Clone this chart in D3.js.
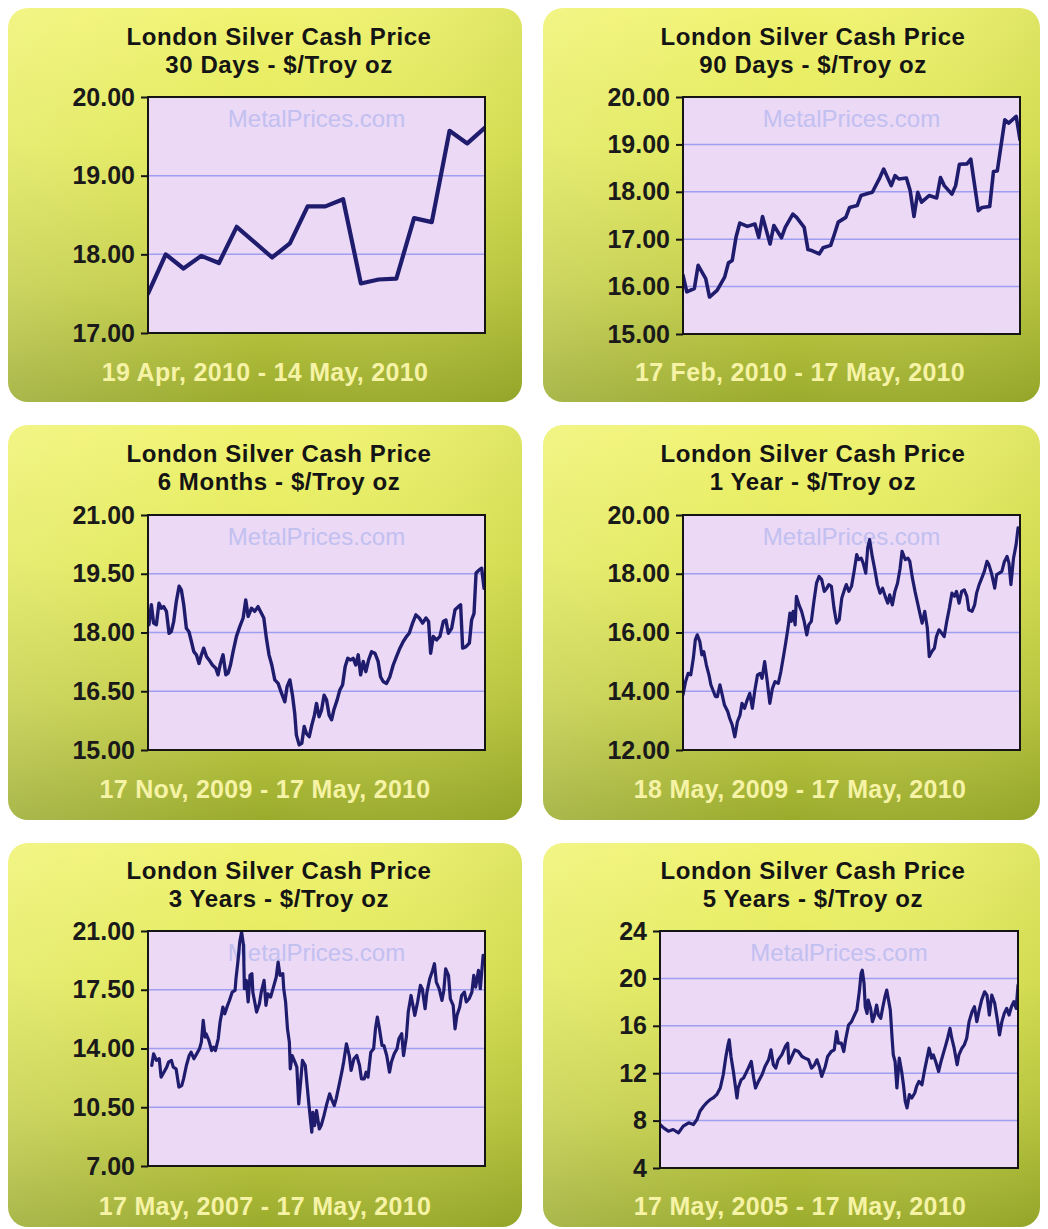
<!DOCTYPE html>
<html><head><meta charset="utf-8">
<script src="https://cdn.jsdelivr.net/npm/d3@7"></script>
<style>body{margin:0;background:#fff}svg{display:block}</style>
</head><body><svg id="c" width="1048" height="1229"></svg>
<script>
// ---------- DATA ----------
const chartTitle = "London Silver Cash Price";
const subtitles = ["30 Days - $/Troy oz","90 Days - $/Troy oz","6 Months - $/Troy oz","1 Year - $/Troy oz","3 Years - $/Troy oz","5 Years - $/Troy oz"];
const dateRanges = ["19 Apr, 2010 - 14 May, 2010","17 Feb, 2010 - 17 May, 2010","17 Nov, 2009 - 17 May, 2010","18 May, 2009 - 17 May, 2010","17 May, 2007 - 17 May, 2010","17 May, 2005 - 17 May, 2010"];
const watermark = "MetalPrices.com";

const yTicks30 = [17,18,19,20];
const yTicks90 = [15,16,17,18,19,20];
const yTicks6m = [15,16.5,18,19.5,21];
const yTicks1y = [12,14,16,18,20];
const yTicks3y = [7,10.5,14,17.5,21];
const yTicks5y = [4,8,12,16,20,24];

// [trading day index, $/oz]
const silver30 = [[0,17.50],[1,18.00],[2,17.82],[3,17.98],[4,17.89],[5,18.35],[7,17.96],[8,18.14],[9,18.61],[10,18.61],[11,18.70],[12,17.63],[13,17.68],[14,17.69],[15,18.46],[16,18.41],[17,19.57],[18,19.41],[19,19.61]];
// [day, $/oz]
const silver90 = [[0,16.24],[1,15.89],[3,15.96],[4,16.45],[6,16.17],[7,15.78],[9,15.92],[11,16.20],[12,16.50],[13,16.55],[14,17.04],[15,17.34],[17,17.27],[19,17.32],[20,17.04],[21,17.48],[23,16.90],[24,17.29],[26,17.03],[27,17.25],[29,17.53],[30,17.46],[32,17.25],[33,16.78],[34,16.76],[36,16.69],[37,16.82],[39,16.87],[40,17.11],[41,17.36],[43,17.46],[44,17.67],[46,17.71],[47,17.92],[49,17.97],[50,17.99],[52,18.30],[53,18.48],[55,18.13],[56,18.34],[57,18.27],[59,18.29],[60,18.02],[61,17.48],[62,17.99],[63,17.78],[65,17.92],[67,17.87],[68,18.30],[69,18.13],[71,17.95],[72,18.13],[73,18.58],[75,18.59],[76,18.69],[78,17.60],[79,17.67],[81,17.69],[82,18.43],[83,18.44],[85,19.52],[86,19.45],[88,19.59],[89,19.10]];
// [day, $/oz]
const silver6m = [[0.5,18.20],[1.8,18.71],[3.0,18.24],[4.5,18.20],[5.9,18.75],[7.2,18.62],[8.4,18.66],[9.9,18.54],[11.3,17.98],[12.5,18.02],[13.8,18.28],[15.2,18.79],[16.7,19.18],[17.9,19.09],[19.2,18.71],[20.6,18.11],[22.0,18.02],[23.3,17.77],[24.6,17.51],[26.0,17.43],[27.4,17.21],[28.7,17.43],[29.9,17.60],[31.4,17.39],[32.8,17.30],[34.6,17.17],[36.4,17.09],[37.6,16.92],[38.9,17.21],[40.3,17.43],[41.8,16.92],[43.0,16.96],[44.3,17.17],[45.7,17.51],[47.5,17.90],[49.3,18.15],[51.1,18.37],[52.5,18.83],[53.8,18.41],[55.6,18.62],[57.3,18.54],[59.1,18.66],[60.9,18.49],[62.2,18.37],[63.6,17.85],[65.0,17.43],[66.5,17.17],[68.1,16.79],[69.9,16.70],[71.7,16.45],[73.5,16.23],[74.7,16.62],[76.2,16.79],[77.6,16.40],[78.8,15.94],[79.7,15.38],[81.2,15.13],[82.6,15.17],[83.9,15.60],[85.1,15.42],[86.6,15.34],[88.0,15.64],[89.4,15.89],[90.5,16.19],[91.9,15.85],[93.2,16.02],[94.6,16.40],[95.9,16.28],[97.3,15.89],[98.6,15.77],[99.8,16.02],[101.6,16.28],[103.0,16.53],[104.5,16.66],[105.9,17.13],[107.3,17.34],[108.8,17.30],[110.2,17.34],[111.6,17.17],[112.9,17.43],[114.2,16.92],[115.6,17.26],[117.0,17.00],[118.5,17.30],[120.1,17.51],[121.9,17.47],[123.6,17.26],[124.9,16.87],[126.3,16.75],[128.1,16.70],[129.9,16.87],[131.7,17.17],[133.5,17.39],[135.3,17.60],[137.1,17.77],[138.9,17.90],[140.3,17.98],[142.1,18.24],[143.9,18.45],[145.7,18.37],[147.5,18.24],[149.3,18.37],[150.7,18.28],[151.8,17.47],[153.2,17.90],[155.0,17.81],[156.8,17.90],[158.6,18.28],[160.0,18.32],[161.3,17.98],[163.1,18.11],[164.9,18.58],[166.7,18.66],[167.9,18.71],[169.0,17.60],[170.8,17.64],[172.6,17.73],[173.8,18.32],[175.1,18.49],[176.2,19.52],[177.9,19.60],[179.2,19.64],[180.5,19.13]];
// [week, $/oz]
const silver1y = [[0,13.88],[0.4,14.33],[0.8,14.61],[1.2,14.56],[1.6,15.13],[1.9,15.75],[2.2,15.92],[2.6,15.69],[2.9,15.24],[3.2,15.35],[3.6,14.90],[4.0,14.56],[4.3,14.22],[4.6,14.05],[5.0,13.82],[5.3,13.82],[5.7,14.22],[6.0,13.93],[6.4,13.53],[6.9,13.31],[7.2,13.08],[7.6,12.85],[8.0,12.45],[8.4,12.97],[8.8,13.19],[9.1,13.59],[9.5,13.42],[9.9,13.70],[10.3,13.93],[10.7,13.42],[11.1,14.05],[11.5,14.56],[11.9,14.61],[12.2,14.44],[12.6,15.01],[13.0,14.33],[13.4,13.59],[13.8,14.10],[14.2,14.33],[14.7,14.27],[15.1,14.67],[15.5,15.18],[15.8,15.58],[16.2,16.15],[16.5,16.66],[16.7,16.38],[17.0,16.72],[17.3,16.26],[17.5,17.23],[17.9,16.94],[18.3,16.72],[18.7,16.38],[19.1,15.92],[19.4,16.26],[19.8,16.38],[20.2,17.06],[20.6,17.68],[21.0,17.91],[21.4,17.80],[21.8,17.40],[22.2,17.51],[22.5,17.63],[22.9,17.57],[23.3,16.83],[23.7,16.32],[24.1,16.43],[24.5,17.17],[24.9,17.45],[25.2,17.63],[25.6,17.40],[26.0,17.57],[26.4,18.08],[26.8,18.65],[27.1,18.48],[27.5,18.53],[27.8,18.36],[28.2,18.02],[28.5,18.88],[28.8,19.16],[29.2,18.59],[29.6,18.14],[30.0,17.63],[30.4,17.34],[30.8,17.51],[31.2,17.23],[31.6,17.00],[31.9,17.28],[32.3,16.94],[32.7,17.40],[33.1,17.68],[33.5,18.19],[33.8,18.76],[34.3,18.48],[34.7,18.53],[35.0,18.42],[35.4,17.85],[35.8,17.40],[36.2,17.00],[36.6,16.60],[36.9,16.32],[37.3,16.72],[37.7,16.15],[38.0,15.18],[38.4,15.35],[38.8,15.47],[39.1,15.86],[39.5,16.09],[39.9,15.98],[40.3,15.86],[40.7,16.38],[41.1,16.83],[41.5,17.34],[41.9,17.23],[42.2,17.40],[42.6,17.00],[43.0,17.40],[43.4,17.45],[43.8,17.23],[44.1,16.77],[44.6,16.72],[45.0,16.94],[45.3,17.34],[45.7,17.63],[46.1,17.85],[46.5,18.08],[46.9,18.42],[47.2,18.31],[47.6,18.02],[48.1,17.51],[48.4,17.97],[48.8,18.02],[49.2,18.08],[49.6,18.42],[50.0,18.59],[50.3,18.36],[50.6,17.63],[51.0,18.53],[51.4,18.99],[51.7,19.56],[52,19.50]];
// [month, $/oz]
const silver3y = [[0.4,12.99],[0.6,13.68],[0.9,13.29],[1.2,13.39],[1.4,12.29],[1.7,12.59],[2.0,12.89],[2.2,13.19],[2.5,13.29],[2.7,12.89],[3.0,12.79],[3.3,11.70],[3.6,11.79],[3.8,12.19],[4.1,12.99],[4.4,13.58],[4.6,13.78],[4.9,13.39],[5.2,13.68],[5.5,13.98],[5.7,14.38],[5.9,15.67],[6.1,14.68],[6.2,14.88],[6.5,14.48],[6.8,13.88],[7.0,14.08],[7.2,13.88],[7.5,14.58],[7.7,15.57],[8.0,16.47],[8.2,16.07],[8.5,16.57],[8.7,16.86],[9.0,17.36],[9.3,17.46],[9.4,18.16],[9.6,19.15],[9.8,20.34],[10.0,20.94],[10.2,20.15],[10.3,17.56],[10.5,18.06],[10.7,16.77],[10.9,18.36],[11.1,18.46],[11.2,17.36],[11.4,16.77],[11.6,16.17],[11.9,16.67],[12.1,17.36],[12.4,18.06],[12.6,16.57],[12.8,17.26],[13.1,17.06],[13.4,17.66],[13.7,18.26],[13.9,19.15],[14.1,18.36],[14.4,18.46],[14.5,17.56],[14.7,16.77],[14.9,15.17],[15.1,14.38],[15.2,12.79],[15.4,13.58],[15.7,13.19],[15.9,12.89],[16.1,10.70],[16.3,11.99],[16.5,13.29],[16.8,12.99],[17.0,11.79],[17.2,10.60],[17.5,9.01],[17.6,10.20],[17.8,9.41],[18.0,10.30],[18.3,9.21],[18.5,9.41],[18.8,10.01],[19.1,10.70],[19.4,11.30],[19.6,11.00],[19.9,10.60],[20.1,11.00],[20.4,11.79],[20.7,12.59],[20.9,13.19],[21.2,14.28],[21.5,13.58],[21.7,12.69],[22.0,13.39],[22.3,13.58],[22.6,12.99],[22.8,12.19],[23.1,12.19],[23.3,12.59],[23.5,12.29],[23.8,13.78],[24.1,13.98],[24.3,15.17],[24.5,15.87],[24.7,15.27],[25.0,14.18],[25.2,14.18],[25.5,13.58],[25.8,12.59],[26.0,13.19],[26.3,13.68],[26.6,13.98],[26.8,14.58],[27.1,14.88],[27.3,13.58],[27.6,14.68],[27.8,16.17],[28.1,17.16],[28.3,16.57],[28.5,15.97],[28.8,16.77],[29.1,17.76],[29.3,17.56],[29.6,16.37],[29.8,17.36],[30.1,18.16],[30.4,18.65],[30.6,19.05],[30.8,17.96],[31.1,17.56],[31.4,16.86],[31.6,17.46],[31.8,18.75],[32.1,18.36],[32.3,16.96],[32.6,16.57],[32.8,15.17],[33.0,15.97],[33.3,16.47],[33.5,17.16],[33.8,17.36],[34.0,16.77],[34.3,16.96],[34.6,17.36],[34.8,18.36],[35.0,17.66],[35.3,18.65],[35.5,17.56],[35.8,19.55],[36,19.35]];
// [month, $/oz]
const silver5y = [[0,7.67],[0.6,7.39],[1.4,7.11],[2.2,7.25],[3.1,6.97],[3.9,7.53],[4.8,7.81],[5.6,7.67],[6.2,8.09],[6.7,8.79],[7.3,9.21],[7.8,9.49],[8.4,9.77],[8.9,9.91],[9.5,10.19],[10.1,10.75],[10.6,11.87],[11.0,13.27],[11.4,14.39],[11.6,14.81],[11.9,13.41],[12.3,12.15],[12.6,11.03],[12.9,9.91],[13.1,10.75],[13.6,11.45],[14.0,11.59],[14.4,12.01],[14.8,12.43],[15.3,12.99],[15.7,11.59],[16.0,10.75],[16.5,11.31],[17.1,11.87],[17.6,12.57],[18.2,13.13],[18.6,13.97],[19.0,12.71],[19.4,12.43],[19.8,13.13],[20.4,13.55],[21.0,14.25],[21.4,14.53],[21.6,12.85],[22.1,13.41],[22.6,13.97],[23.2,13.83],[23.8,13.41],[24.3,13.27],[24.9,13.13],[25.4,12.43],[25.9,12.71],[26.3,13.13],[26.7,12.57],[27.1,11.73],[27.7,12.57],[28.1,13.41],[28.7,13.83],[29.2,13.97],[29.6,15.51],[29.9,14.53],[30.4,14.53],[30.8,13.83],[31.1,14.81],[31.6,16.07],[32.1,16.35],[32.6,16.91],[33.0,17.33],[33.4,18.87],[33.7,20.41],[33.9,20.69],[34.2,19.57],[34.4,17.61],[34.7,17.05],[34.9,18.17],[35.3,17.47],[35.6,16.35],[35.9,16.77],[36.3,17.75],[36.6,16.91],[37.0,16.63],[37.3,17.47],[37.7,18.45],[38.0,19.01],[38.3,18.17],[38.6,17.33],[38.9,14.95],[39.1,13.55],[39.4,12.99],[39.7,10.75],[40.1,13.27],[40.5,12.15],[40.8,11.03],[41.1,9.63],[41.4,9.07],[41.8,10.19],[42.2,9.91],[42.7,10.33],[43.0,10.89],[43.4,11.31],[43.9,11.03],[44.3,12.15],[44.7,13.13],[45.1,14.11],[45.5,13.27],[45.8,13.55],[46.2,12.99],[46.7,12.15],[47.1,12.99],[47.5,13.69],[47.9,14.39],[48.2,14.95],[48.6,15.79],[48.9,14.95],[49.3,14.11],[49.8,12.71],[50.1,13.55],[50.6,14.11],[51.0,14.39],[51.4,14.95],[51.8,16.35],[52.3,17.19],[52.7,17.61],[53.1,16.35],[53.5,17.33],[53.9,18.17],[54.4,18.87],[54.8,18.59],[55.2,16.91],[55.6,18.59],[56.1,17.89],[56.5,16.63],[56.9,15.23],[57.3,16.35],[57.7,17.05],[58.1,17.47],[58.5,16.91],[58.9,17.61],[59.3,18.03],[59.7,17.47],[60,19.43]];

// ---------- LAYOUT ----------
const FONT = "'Liberation Sans', Arial, sans-serif";
const panels = [
  {data: silver30, xd:[0,19],  yd:[17,20], ticks:yTicks30, fmt:".2f", card:[8,8,514,394],   plot:[148,97,337,236],  tx:279, dx:265, off:0,   lw:4.2},
  {data: silver90, xd:[0,89],  yd:[15,20], ticks:yTicks90, fmt:".2f", card:[543,8,497,394], plot:[683,97,337,237],  tx:813, dx:800, off:0,   lw:3.6},
  {data: silver6m, xd:[0,181], yd:[15,21], ticks:yTicks6m, fmt:".2f", card:[8,425,514,395], plot:[148,515,337,235], tx:279, dx:265, off:417, lw:3.4},
  {data: silver1y, xd:[0,52],  yd:[12,20], ticks:yTicks1y, fmt:".2f", card:[543,425,497,395],plot:[683,515,337,235], tx:813, dx:800, off:417, lw:3.2},
  {data: silver3y, xd:[0,36],  yd:[7,21],  ticks:yTicks3y, fmt:".2f", card:[8,843,514,384], plot:[148,931,337,235], tx:279, dx:265, off:834, lw:3.2},
  {data: silver5y, xd:[0,60],  yd:[4,24],  ticks:yTicks5y, fmt:"d",   card:[543,843,497,384],plot:[660,931,358,237], tx:813, dx:800, off:834, lw:3.2}
];

const svg = d3.select("#c");
const defs = svg.append("defs");
const grad = defs.append("linearGradient").attr("id","cardGrad").attr("x1",0).attr("y1",0).attr("x2",0).attr("y2",1);
[[0,"#f0f370"],[0.35,"#e2e95a"],[0.7,"#c4ce46"],[1,"#9aab2c"]].forEach(([o,c])=>grad.append("stop").attr("offset",o).attr("stop-color",c));
const hgrad = defs.append("linearGradient").attr("id","cardHi").attr("x1",0).attr("y1",0).attr("x2",1).attr("y2",0);
[[0,"#ffffff",0.15],[0.5,"#ffffff",0],[1,"#5f7a10",0.12]].forEach(([o,c,a])=>hgrad.append("stop").attr("offset",o).attr("stop-color",c).attr("stop-opacity",a));

panels.forEach((p,i)=>{
  const g = svg.append("g");
  const [cx,cy,cw,ch] = p.card;
  g.append("rect").attr("x",cx).attr("y",cy).attr("width",cw).attr("height",ch).attr("rx",20).attr("fill","url(#cardGrad)");
  g.append("rect").attr("x",cx).attr("y",cy).attr("width",cw).attr("height",ch).attr("rx",20).attr("fill","url(#cardHi)");

  g.append("text").attr("x",p.tx).attr("y",45+p.off).attr("text-anchor","middle").attr("letter-spacing",0.6)
    .attr("font-family",FONT).attr("font-weight","bold").attr("font-size",24).attr("fill","#141414").text(chartTitle);
  g.append("text").attr("x",p.tx).attr("y",73+p.off).attr("text-anchor","middle").attr("letter-spacing",0.6)
    .attr("font-family",FONT).attr("font-weight","bold").attr("font-size",24).attr("fill","#141414").text(subtitles[i]);
  g.append("text").attr("x",p.dx).attr("y",381+p.off).attr("text-anchor","middle").attr("letter-spacing",0.3)
    .attr("font-family",FONT).attr("font-weight","bold").attr("font-size",25).attr("fill","#f6f3a6").text(dateRanges[i]);

  const [px,py,pw,ph] = p.plot;
  const x = d3.scaleLinear().domain(p.xd).range([px, px+pw]);
  const y = d3.scaleLinear().domain(p.yd).range([py+ph, py]);

  g.append("rect").attr("x",px).attr("y",py).attr("width",pw).attr("height",ph).attr("fill","#ebd9f6");
  g.append("text").attr("x",px+pw/2).attr("y",py+30).attr("text-anchor","middle")
    .attr("font-family",FONT).attr("font-size",24).attr("fill","#c2c0f0").text(watermark);

  g.selectAll("line.grid").data(p.ticks.slice(1,-1)).join("line").attr("class","grid")
    .attr("x1",px).attr("x2",px+pw).attr("y1",d=>y(d)).attr("y2",d=>y(d))
    .attr("stroke","#a09ef0").attr("stroke-width",1.5);

  const clipId = "clip"+i;
  defs.append("clipPath").attr("id",clipId).append("rect").attr("x",px).attr("y",py-2).attr("width",pw).attr("height",ph+4);
  const line = d3.line().x(d=>x(d[0])).y(d=>y(d[1]));
  g.append("path").datum(p.data).attr("d",line).attr("clip-path",`url(#${clipId})`)
    .attr("fill","none").attr("stroke","#1f1c6e").attr("stroke-width",p.lw)
    .attr("stroke-linejoin","round").attr("stroke-linecap","round");

  g.append("rect").attr("x",px).attr("y",py).attr("width",pw).attr("height",ph)
    .attr("fill","none").attr("stroke","#151515").attr("stroke-width",2);

  const ax = g.append("g").attr("transform",`translate(${px},0)`)
    .call(d3.axisLeft(y).tickValues(p.ticks).tickFormat(d3.format(p.fmt)).tickSize(7).tickPadding(6));
  ax.select(".domain").remove();
  ax.selectAll(".tick line").attr("stroke","#151515").attr("stroke-width",2);
  ax.selectAll(".tick text").attr("font-family",FONT).attr("font-weight","bold").attr("font-size",25).attr("fill","#1a1a1a");
});
</script>
</body></html>
